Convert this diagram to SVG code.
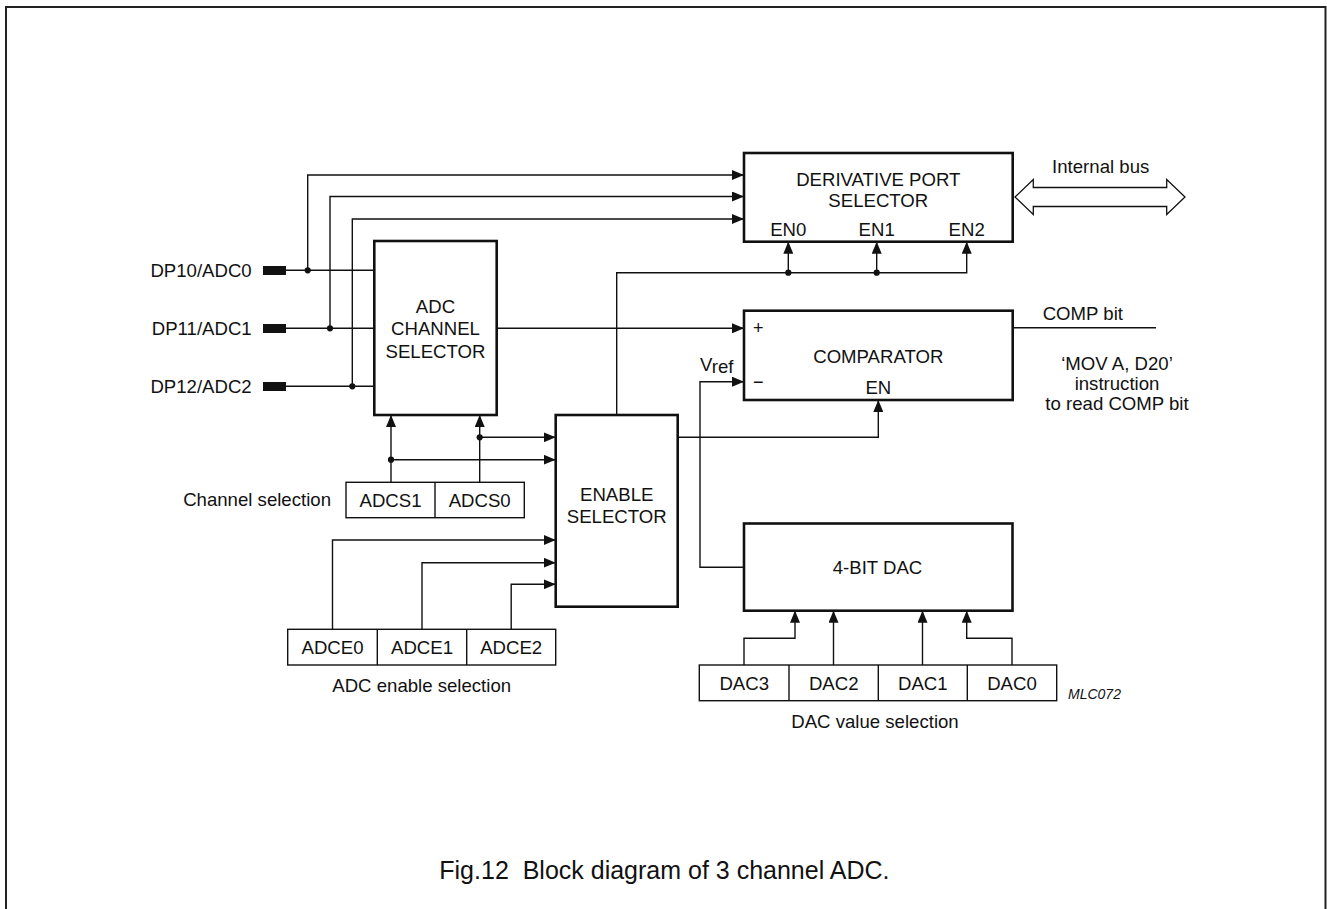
<svg xmlns="http://www.w3.org/2000/svg" width="1327" height="909" viewBox="0 0 1327 909">
<style>
text{font-family:"Liberation Sans",Arial,Helvetica,sans-serif;fill:#111;font-size:18.6px}
.c{text-anchor:middle}
.e{text-anchor:end}
.big{fill:#fff;stroke:#111;stroke-width:2.6}
.reg{fill:#fff;stroke:#111;stroke-width:1.4}
.w{fill:none;stroke:#111;stroke-width:1.4}
.wa{fill:none;stroke:#111;stroke-width:1.4;marker-end:url(#ah)}
.dot{fill:#111}
.pin{fill:#111}
</style>
<defs>
<marker id="ah" markerUnits="userSpaceOnUse" markerWidth="12" markerHeight="10" refX="12" refY="5" orient="auto">
<path d="M0,0 L12,5 L0,10 z" fill="#111"/>
</marker>
</defs>
<rect x="0" y="0" width="1327" height="909" fill="#fff"/>
<path d="M6,912 V7 H1325.5 V912" fill="none" stroke="#222" stroke-width="2"/>

<g id="connectors">
<path class="w" d="M286,270.3 H374"/>
<path class="w" d="M286,328.3 H374"/>
<path class="w" d="M286,386.3 H374"/>
<path class="wa" d="M307.7,270.3 V175 H744"/>
<path class="wa" d="M330,328.3 V196.5 H744"/>
<path class="wa" d="M352.3,386.3 V219 H744"/>
<circle class="dot" cx="307.7" cy="270.3" r="3.1"/>
<circle class="dot" cx="330" cy="328.3" r="3.1"/>
<circle class="dot" cx="352.3" cy="386.3" r="3.1"/>
<path class="wa" d="M496.7,328.3 H744"/>
<path class="wa" d="M391,482.3 V415"/>
<path class="wa" d="M391,459.7 H555.7"/>
<circle class="dot" cx="391" cy="459.7" r="3.1"/>
<path class="wa" d="M479.7,482.3 V415"/>
<path class="wa" d="M479.7,437.3 H555.7"/>
<circle class="dot" cx="479.7" cy="437.3" r="3.1"/>
<path class="wa" d="M332.5,629.3 V540 H555.7"/>
<path class="wa" d="M422,629.3 V562.7 H555.7"/>
<path class="wa" d="M511.2,629.3 V584.3 H555.7"/>
<path class="wa" d="M616.7,415 V272.7 H966.7 V241.7"/>
<path class="wa" d="M788.3,272.7 V241.7"/>
<path class="wa" d="M876.7,272.7 V241.7"/>
<circle class="dot" cx="788.3" cy="272.7" r="3.1"/>
<circle class="dot" cx="876.7" cy="272.7" r="3.1"/>
<path class="wa" d="M677.7,437.3 H878.3 V400"/>
<path class="wa" d="M743.3,567.3 H700 V381.7 H744"/>
<path class="wa" d="M744,665 V638.3 H795 V610.7"/>
<path class="wa" d="M833.5,665 V610.7"/>
<path class="wa" d="M922.5,665 V610.7"/>
<path class="wa" d="M1012,665 V638.3 H966.7 V610.7"/>
<path class="w" d="M1012.7,327.7 H1156"/>
<polygon points="1015,197 1033.3,179.5 1033.3,187.5 1166.7,187.5 1166.7,179.5 1185,197 1166.7,214.5 1166.7,206.5 1033.3,206.5 1033.3,214.5" fill="#fff" stroke="#111" stroke-width="1.3"/>
</g>

<g id="pins">
<rect class="pin" x="263" y="266" width="23" height="9"/>
<rect class="pin" x="263" y="324" width="23" height="9"/>
<rect class="pin" x="263" y="382" width="23" height="9"/>
<text class="e" x="251.7" y="277">DP10/ADC0</text>
<text class="e" x="251.7" y="335">DP11/ADC1</text>
<text class="e" x="251.7" y="393">DP12/ADC2</text>
</g>

<g id="adc-channel-selector">
<rect class="big" x="374.3" y="241" width="122.4" height="174"/>
<text class="c" x="435.5" y="312.7">ADC</text>
<text class="c" x="435.5" y="335.3">CHANNEL</text>
<text class="c" x="435.5" y="357.5">SELECTOR</text>
</g>

<g id="enable-selector">
<rect class="big" x="555.7" y="415" width="122" height="191.7"/>
<text class="c" x="616.7" y="500.7">ENABLE</text>
<text class="c" x="616.7" y="523">SELECTOR</text>
</g>

<g id="derivative-port-selector">
<rect class="big" x="744" y="153" width="268.7" height="88.7"/>
<text class="c" x="878.3" y="186">DERIVATIVE PORT</text>
<text class="c" x="878.3" y="207.3">SELECTOR</text>
<text class="c" x="788.3" y="236">EN0</text>
<text class="c" x="876.7" y="236">EN1</text>
<text class="c" x="966.7" y="236">EN2</text>
</g>

<g id="internal-bus-label">
<text class="c" x="1100.7" y="173.3">Internal bus</text>
</g>

<g id="comparator">
<rect class="big" x="744" y="310.7" width="268.7" height="89.3"/>
<text class="c" x="758.3" y="334" style="font-size:18px">+</text>
<text class="c" x="758.3" y="387.5" style="font-size:18px">−</text>
<text class="c" x="878.3" y="362.7">COMPARATOR</text>
<text class="c" x="878.3" y="394">EN</text>
<text x="700" y="370.5">V<tspan dy="2.8">ref</tspan></text>
</g>

<g id="comp-bit">
<text x="1042.7" y="320">COMP bit</text>
<text class="c" x="1117" y="369.5">‘MOV A, D20’</text>
<text class="c" x="1117" y="390">instruction</text>
<text class="c" x="1117" y="410">to read COMP bit</text>
</g>

<g id="dac">
<rect class="big" x="744" y="523.5" width="268.5" height="87.2"/>
<text class="c" x="877.5" y="574.3">4-BIT DAC</text>
</g>

<g id="adcs-register">
<rect class="reg" x="346" y="482.3" width="178.3" height="35.4"/>
<line class="w" x1="435" y1="482.3" x2="435" y2="517.7"/>
<text class="c" x="390.5" y="506.5">ADCS1</text>
<text class="c" x="479.7" y="506.5">ADCS0</text>
<text class="e" x="331" y="505.5">Channel selection</text>
</g>

<g id="adce-register">
<rect class="reg" x="287.7" y="629.3" width="268" height="35.7"/>
<line class="w" x1="377.3" y1="629.3" x2="377.3" y2="665"/>
<line class="w" x1="466.7" y1="629.3" x2="466.7" y2="665"/>
<text class="c" x="332.5" y="654">ADCE0</text>
<text class="c" x="422" y="654">ADCE1</text>
<text class="c" x="511.2" y="654">ADCE2</text>
<text class="c" x="421.7" y="691.5">ADC enable selection</text>
</g>

<g id="dac-register">
<rect class="reg" x="699.3" y="665" width="357.4" height="35.7"/>
<line class="w" x1="789" y1="665" x2="789" y2="700.7"/>
<line class="w" x1="878.3" y1="665" x2="878.3" y2="700.7"/>
<line class="w" x1="967.3" y1="665" x2="967.3" y2="700.7"/>
<text class="c" x="744.2" y="690">DAC3</text>
<text class="c" x="833.7" y="690">DAC2</text>
<text class="c" x="922.8" y="690">DAC1</text>
<text class="c" x="1012" y="690">DAC0</text>
<text class="c" x="875" y="728.3">DAC value selection</text>
<text x="1068" y="699" style="font-size:14px;font-style:italic">MLC072</text>
</g>

<g id="caption">
<text x="439.3" y="879" style="font-size:25px" xml:space="preserve">Fig.12  Block diagram of 3 channel ADC.</text>
</g>
</svg>
